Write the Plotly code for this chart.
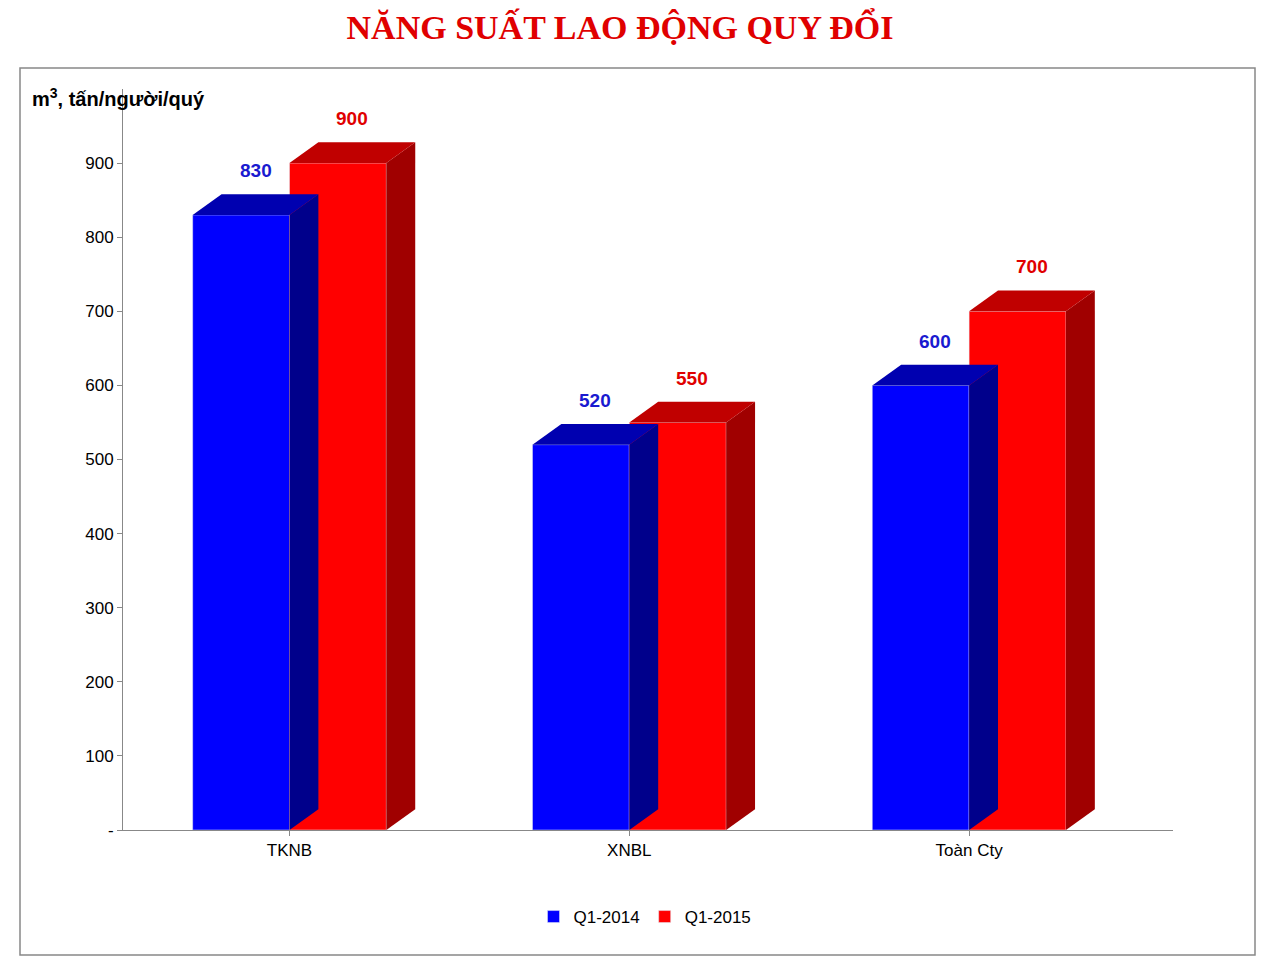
import plotly.graph_objects as go

categories = ["TKNB", "XNBL", "Toàn Cty"]
q1_2014 = [830, 520, 600]
q1_2015 = [900, 550, 700]
tick_vals = [0, 100, 200, 300, 400, 500, 600, 700, 800, 900]
tick_text = ["-", "100", "200", "300", "400", "500", "600", "700", "800", "900"]

W, H = 1264, 952
OFF = 8  # page body margin
ML, MR, MT, MB = 115, 99, 81, 130
pw, ph = W - ML - MR, H - MT - MB


def px(x):
    return (x - OFF - ML) / pw


def py(y):
    return (H - MB - (y - OFF)) / ph


fig = go.Figure()
fig.add_trace(go.Bar(x=categories, y=q1_2014, name="Q1-2014", marker_color="#0000ff"))
fig.add_trace(go.Bar(x=categories, y=q1_2015, name="Q1-2015", marker_color="#ff0000"))

# fake 3D depth: side and top faces
bargap = 0.43
bw = (1 - bargap) / 2
dx, dy = 0.085, 28
shapes = []
annotations = []
for vals, off, side, top, lab in [(q1_2014, -bw / 2, "#00008b", "#0000b0", "#1a1ad0"),
                                  (q1_2015, bw / 2, "#a00000", "#c00000", "#e00000")]:
    for i, v in enumerate(vals):
        x0, x1 = i + off - bw / 2, i + off + bw / 2
        shapes.append(dict(type="path", xref="x", yref="y", fillcolor=side, line_width=0,
                           path=f"M{x1},0 L{x1 + dx},{dy} L{x1 + dx},{v + dy} L{x1},{v} Z"))
        shapes.append(dict(type="path", xref="x", yref="y", fillcolor=top, line_width=0,
                           path=f"M{x0},{v} L{x0 + dx},{v + dy} L{x1 + dx},{v + dy} L{x1},{v} Z"))
        annotations.append(dict(x=i + off + dx / 2, y=v + dy + 15, text=f"<b>{v}</b>",
                                showarrow=False, yanchor="bottom",
                                font=dict(size=19, color=lab, family="Arial")))

# outer border
shapes.append(dict(type="rect", xref="paper", yref="paper", layer="below",
                   x0=px(20), x1=px(1255), y0=py(955), y1=py(68),
                   line=dict(color="#888", width=1.5)))

annotations.append(dict(xref="paper", yref="paper", x=px(30), y=py(97),
                        xanchor="left", yanchor="middle", showarrow=False,
                        text="<b>m<sup>3</sup>, tấn/người/quý</b>",
                        font=dict(size=20, color="black", family="Arial")))

fig.update_layout(
    width=W, height=H, barmode="group", bargap=bargap, bargroupgap=0,
    paper_bgcolor="white", plot_bgcolor="white",
    margin=dict(l=ML, r=MR, t=MT, b=MB),
    title=dict(text="NĂNG SUẤT LAO ĐỘNG QUY ĐỔI", x=(620 - OFF) / W, xanchor="center",
               y=1 - (27 - OFF) / H, yanchor="middle",
               font=dict(family="Liberation Serif", size=34, color="#e00000", weight="bold")),
    shapes=shapes, annotations=annotations,
    legend=dict(orientation="h", x=px(645), xanchor="center", y=py(917), yanchor="middle",
                font=dict(size=17, family="Arial", color="black")),
    xaxis=dict(showline=True, linecolor="#888", ticks="outside", tickcolor="#888",
               tickfont=dict(size=17, family="Arial", color="black"), range=[-0.49, 2.6]),
    yaxis=dict(range=[0, 1000], tickvals=tick_vals, ticktext=tick_text, showgrid=False,
               showline=True, linecolor="#888", ticks="outside", tickcolor="#888",
               tickfont=dict(size=17, family="Arial", color="black"), zeroline=False),
)
fig.write_html("out.html")
